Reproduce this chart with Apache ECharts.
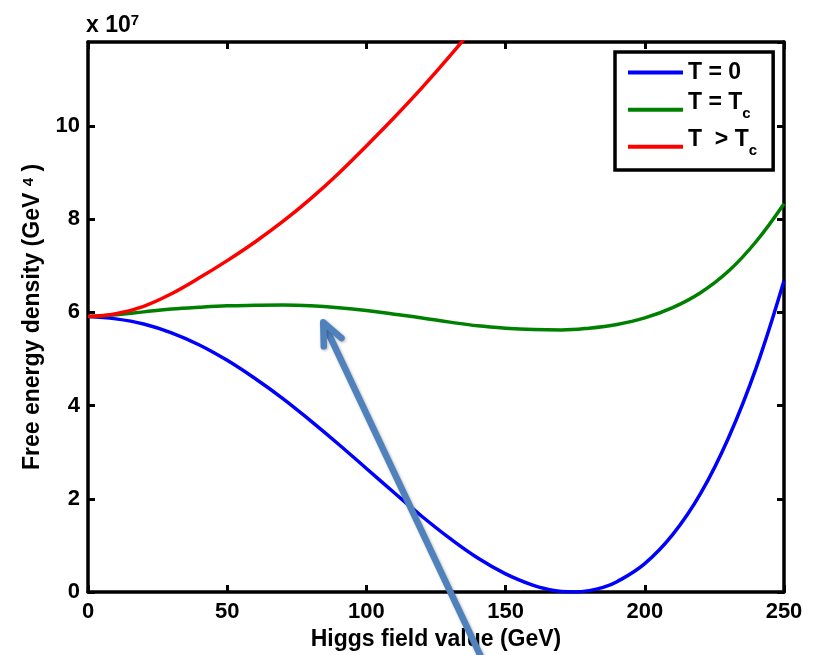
<!DOCTYPE html>
<html>
<head>
<meta charset="utf-8">
<script src="https://cdn.jsdelivr.net/npm/echarts@6/dist/echarts.min.js"></script>
<style>
  html, body { margin: 0; padding: 0; background: #fff; }
  #chart { width: 817px; height: 655px; }
</style>
</head>
<body>
<div id="chart"></div>
<script>
// Higgs field value (GeV) and free energy density in units of 1e7 GeV^4
var phiT0 = [0, 10, 20, 30, 40, 50, 60, 70, 80, 90, 100, 110, 120, 130, 140, 150,
             160, 165, 170, 175, 180, 185, 190, 200, 210, 220, 230, 240, 250];
var energyT0 = [5.91, 5.86, 5.75, 5.56, 5.30, 4.97, 4.58, 4.15, 3.67, 3.17, 2.65, 2.13, 1.62,
                1.15, 0.73, 0.39, 0.14, 0.06, 0.01, 0.00, 0.03, 0.10, 0.22, 0.61, 1.23, 2.11,
                3.30, 4.81, 6.68];

var phiTc = [0, 10, 20, 30, 40, 50, 60, 70, 80, 90, 100, 110, 120, 130, 140, 150,
             160, 170, 180, 190, 200, 210, 220, 230, 240, 250];
var energyTc = [5.91, 5.95, 6.01, 6.07, 6.11, 6.14, 6.15, 6.155, 6.14, 6.10, 6.04, 5.96, 5.88,
                5.79, 5.71, 5.66, 5.63, 5.62, 5.66, 5.74, 5.88, 6.10, 6.42, 6.88, 7.52, 8.33];

// T > Tc leaves the frame near 134 GeV
var phiHot = [0, 10, 20, 30, 40, 50, 60, 70, 80, 90, 100, 110, 120, 130, 140];
var energyHot = [5.91, 5.97, 6.13, 6.40, 6.74, 7.11, 7.51, 7.95, 8.44, 8.98, 9.57, 10.18, 10.82, 11.50, 12.22];

var xTicks = [0, 50, 100, 150, 200, 250];
var yTicks = [0, 2, 4, 6, 8, 10];

// arrow annotation, in data units (tail lies below the axis)
var arrowTip = [84.5, 5.785];
var arrowTail = [141.7, -1.46];

var FONT = "'Liberation Sans', Arial, Helvetica, sans-serif";

function pairs(xs, ys) {
  var out = [];
  for (var i = 0; i < ys.length; i++) out.push([xs[i], ys[i]]);
  return out;
}

var chart = echarts.init(document.getElementById('chart'), null, { renderer: 'canvas' });

var frameAxis = { onZero: false, lineStyle: { color: '#000', width: 3.5 } };
var tick = { show: true, inside: true, length: 7, lineStyle: { color: '#000', width: 3 } };
var bold = { fontFamily: FONT, fontWeight: 'bold', color: '#000' };

var option = {
  animation: false,
  backgroundColor: '#fff',
  title: {
    text: 'x 10{sup|7}',
    left: 86, top: 13,
    padding: 0,
    textStyle: Object.assign({ fontSize: 23, lineHeight: 26 }, bold, {
      rich: {
        sup: Object.assign({ fontSize: 15, verticalAlign: 'top', lineHeight: 14 }, bold)
      }
    })
  },
  legend: {
    left: 615, top: 52,
    orient: 'vertical',
    padding: [9, 15, 12, 13],
    itemGap: 7,
    itemWidth: 55,
    itemHeight: 4,
    icon: 'rect',
    borderColor: '#000',
    borderWidth: 3.5,
    backgroundColor: '#fff',
    data: ['T = 0', 'T = Tc', 'T > Tc'],
    formatter: function (name) {
      if (name === 'T = 0') return '{a|T = 0}';
      if (name === 'T = Tc') return '{b|T = T}{c|c}{s| }';
      return '{b|T  > T}{c|c}{s| }';
    },
    textStyle: Object.assign({ fontSize: 23 }, bold, {
      rich: {
        a: Object.assign({ fontSize: 23, lineHeight: 37.5 }, bold),
        b: Object.assign({ fontSize: 23, lineHeight: 18.5, verticalAlign: 'top' }, bold),
        c: Object.assign({ fontSize: 15, lineHeight: 16, verticalAlign: 'top', padding: [15, 0, 0, 0] }, bold),
        s: { fontSize: 4, lineHeight: 37.5 }
      }
    })
  },
  grid: { left: 88, right: 33, top: 42, bottom: 63, containLabel: false, outerBoundsMode: 'none' },
  xAxis: [{
    type: 'value', min: 0, max: 250, interval: 50,
    name: 'Higgs field value (GeV)',
    nameLocation: 'middle', nameGap: 32,
    nameTextStyle: Object.assign({ fontSize: 23 }, bold),
    axisLine: frameAxis, axisTick: tick, splitLine: { show: false },
    axisLabel: Object.assign({ margin: 9, fontSize: 22 }, bold, {
      formatter: function (v) { return xTicks.indexOf(v) >= 0 ? String(v) : ''; }
    })
  }, {
    type: 'value', position: 'top', min: 0, max: 250, interval: 50,
    axisLine: frameAxis, axisTick: tick, axisLabel: { show: false }, splitLine: { show: false }
  }],
  yAxis: [{
    type: 'value', min: 0, max: 11.8, interval: 2,
    name: 'Free energy density (GeV {sup|4} )',
    nameLocation: 'middle', nameGap: 36,
    nameTextStyle: Object.assign({ fontSize: 23 }, bold, {
      rich: {
        sup: Object.assign({ fontSize: 15, verticalAlign: 'top', lineHeight: 12 }, bold)
      }
    }),
    axisLine: frameAxis, axisTick: tick, splitLine: { show: false },
    axisLabel: Object.assign({ margin: 8, fontSize: 22, showMaxLabel: false }, bold, {
      formatter: function (v) { return yTicks.indexOf(v) >= 0 ? String(v) : ''; }
    })
  }, {
    type: 'value', position: 'right', min: 0, max: 11.8, interval: 2,
    axisLine: frameAxis, axisTick: tick, axisLabel: { show: false }, splitLine: { show: false }
  }],
  series: [
    {
      name: 'T = 0', type: 'line', data: pairs(phiT0, energyT0),
      smooth: 0.4, showSymbol: false, symbol: 'none',
      lineStyle: { color: '#0000ff', width: 3.5 }, itemStyle: { color: '#0000ff' }, z: 3
    },
    {
      name: 'T = Tc', type: 'line', data: pairs(phiTc, energyTc),
      smooth: 0.4, showSymbol: false, symbol: 'none',
      lineStyle: { color: '#008000', width: 3.5 }, itemStyle: { color: '#008000' }, z: 3
    },
    {
      name: 'T > Tc', type: 'line', data: pairs(phiHot, energyHot),
      smooth: 0.4, showSymbol: false, symbol: 'none', clip: true,
      lineStyle: { color: '#ff0000', width: 3.5 }, itemStyle: { color: '#ff0000' }, z: 3
    }
  ]
};

chart.setOption(option);

// arrow pointing at the T = Tc barrier
var tip = chart.convertToPixel({ gridIndex: 0 }, arrowTip);
var tail = chart.convertToPixel({ gridIndex: 0 }, arrowTail);
var dx = tail[0] - tip[0], dy = tail[1] - tip[1];
var len = Math.sqrt(dx * dx + dy * dy);
var ux = dx / len, uy = dy / len;
var headLen = 24, ang = 24 * Math.PI / 180;
function rot(a) {
  return [tip[0] + headLen * (ux * Math.cos(a) - uy * Math.sin(a)),
          tip[1] + headLen * (ux * Math.sin(a) + uy * Math.cos(a))];
}
var arrowStyle = {
  stroke: '#4f81bd', lineWidth: 6.5, fill: null, lineCap: 'round', lineJoin: 'round',
  shadowBlur: 3, shadowColor: 'rgba(0,0,0,0.3)', shadowOffsetX: 1, shadowOffsetY: 1
};
chart.setOption({
  graphic: [
    { type: 'polyline', z: 50, shape: { points: [[tip[0] + ux * 2, tip[1] + uy * 2], tail] }, style: arrowStyle },
    { type: 'polyline', z: 51, shape: { points: [rot(ang), tip, rot(-ang)] }, style: arrowStyle }
  ]
});
</script>
</body>
</html>
